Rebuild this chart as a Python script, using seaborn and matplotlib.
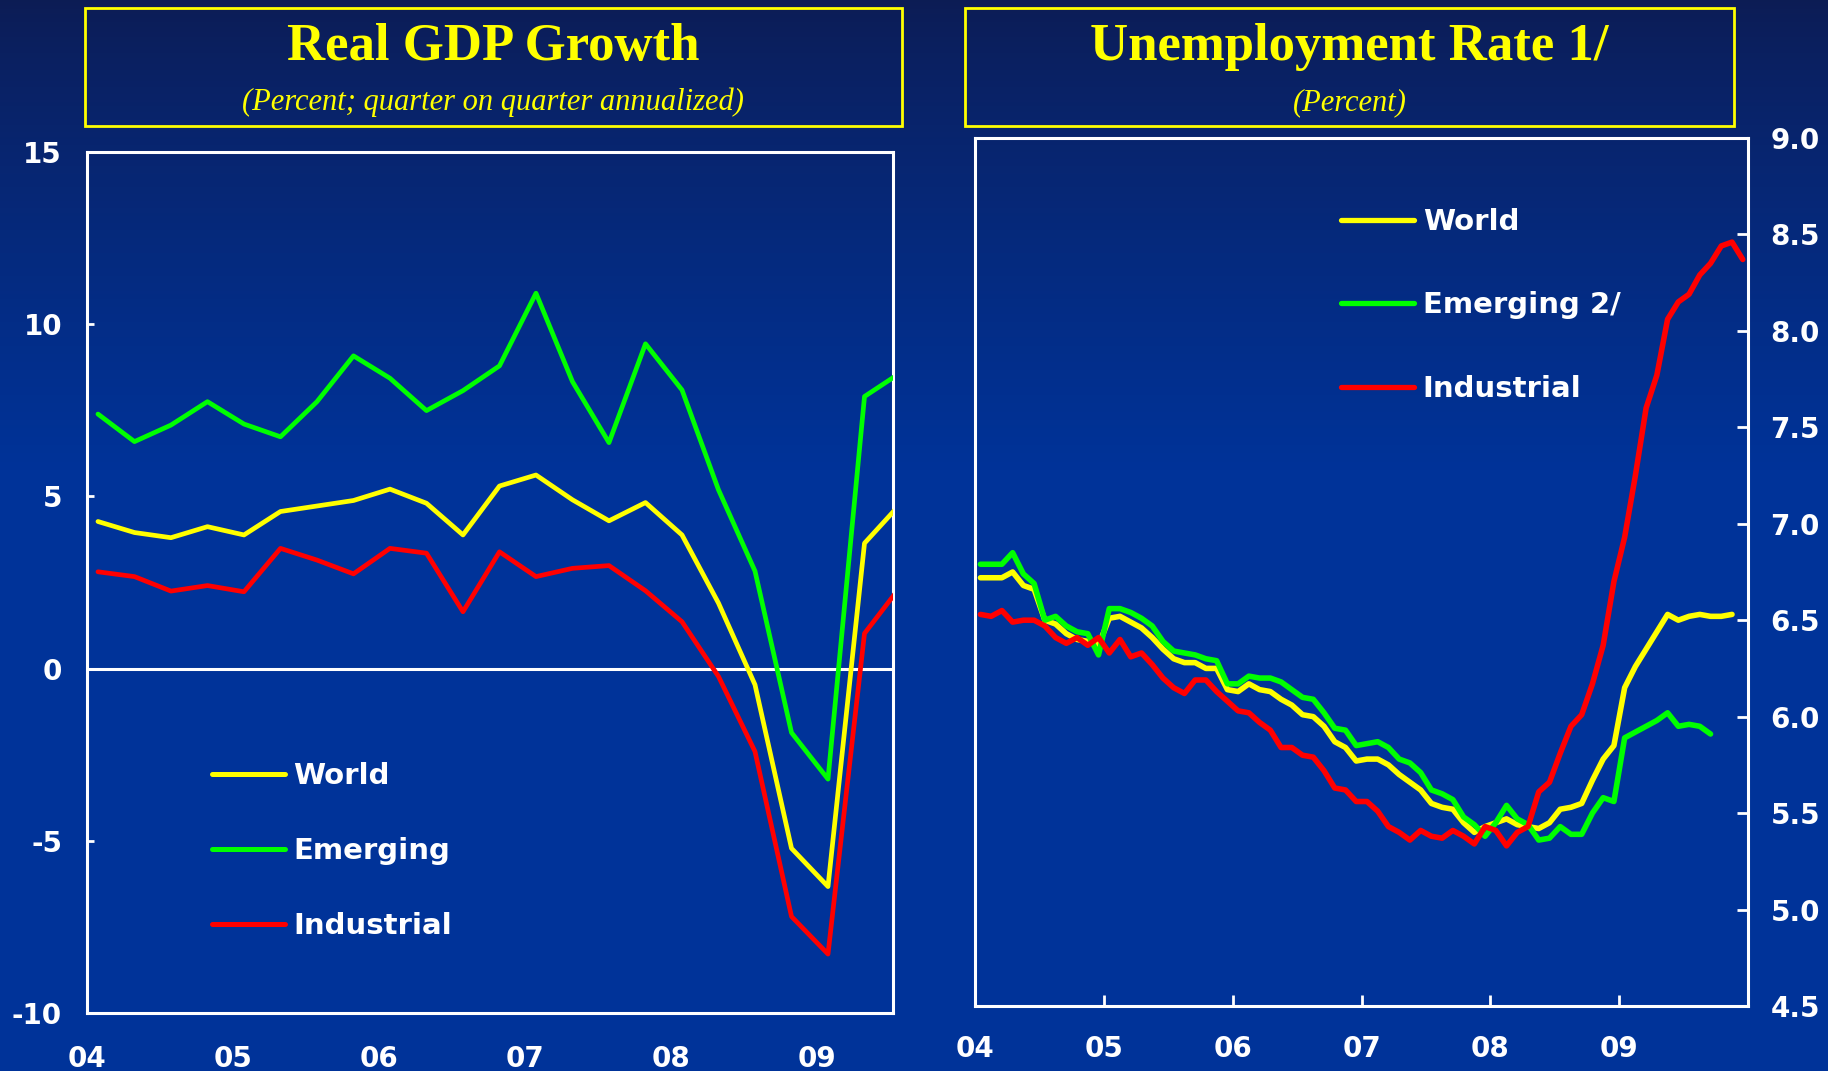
import numpy as np
import pandas as pd
import matplotlib
matplotlib.use("Agg")
import matplotlib.pyplot as plt
from matplotlib.lines import Line2D
from matplotlib.patches import Rectangle
import seaborn as sns

# ---------------------------------------------------------------------------
# Real GDP growth, quarterly 2004Q1-2009Q3 (percent; q/q annualized)
gdp_quarters = pd.period_range("2004Q1", "2009Q3", freq="Q")
gdp_world = [4.27, 3.95, 3.80, 4.12, 3.88, 4.56, 4.72, 4.88, 5.21, 4.80, 3.88, 5.30,
             5.62, 4.90, 4.29, 4.82, 3.88, 1.90, -0.47, -5.22, -6.33, 3.64, 4.80]
gdp_emerging = [7.39, 6.59, 7.07, 7.75, 7.10, 6.73, 7.75, 9.08, 8.43, 7.49, 8.07, 8.79,
                10.90, 8.33, 6.56, 9.43, 8.09, 5.19, 2.83, -1.86, -3.21, 7.90, 8.60]
gdp_industrial = [2.81, 2.67, 2.25, 2.41, 2.23, 3.49, 3.15, 2.75, 3.49, 3.35, 1.65, 3.39,
                  2.67, 2.91, 2.99, 2.26, 1.36, -0.23, -2.41, -7.20, -8.29, 1.02, 2.40]

# Unemployment rate, monthly from January 2004 (percent)
unemp_world = [6.72, 6.72, 6.72, 6.75, 6.68, 6.66, 6.50, 6.48, 6.43, 6.40, 6.39, 6.37,
               6.51, 6.52, 6.49, 6.46, 6.41, 6.35, 6.30, 6.28, 6.28, 6.25, 6.25, 6.14,
               6.13, 6.17, 6.14, 6.13, 6.09, 6.06, 6.01, 6.00, 5.95, 5.87, 5.84, 5.77,
               5.78, 5.78, 5.75, 5.70, 5.66, 5.62, 5.55, 5.53, 5.52, 5.45, 5.40, 5.43,
               5.45, 5.47, 5.44, 5.43, 5.42, 5.45, 5.52, 5.53, 5.55, 5.67, 5.78, 5.85,
               6.15, 6.26, 6.35, 6.44, 6.53, 6.50, 6.52, 6.53, 6.52, 6.52, 6.53]
unemp_emerging = [6.79, 6.79, 6.79, 6.85, 6.74, 6.69, 6.50, 6.52, 6.47, 6.44, 6.43, 6.32,
                  6.56, 6.56, 6.54, 6.51, 6.47, 6.39, 6.34, 6.33, 6.32, 6.30, 6.29, 6.17,
                  6.17, 6.21, 6.20, 6.20, 6.18, 6.14, 6.10, 6.09, 6.02, 5.94, 5.93, 5.85,
                  5.86, 5.87, 5.84, 5.78, 5.76, 5.71, 5.62, 5.60, 5.57, 5.48, 5.44, 5.38,
                  5.45, 5.54, 5.47, 5.44, 5.36, 5.37, 5.43, 5.39, 5.39, 5.50, 5.58, 5.56,
                  5.89, 5.92, 5.95, 5.98, 6.02, 5.95, 5.96, 5.95, 5.91]
unemp_industrial = [6.53, 6.52, 6.55, 6.49, 6.50, 6.50, 6.47, 6.41, 6.38, 6.41, 6.37, 6.41,
                    6.33, 6.40, 6.31, 6.33, 6.27, 6.20, 6.15, 6.12, 6.19, 6.19, 6.13, 6.08,
                    6.03, 6.02, 5.97, 5.93, 5.84, 5.84, 5.80, 5.79, 5.72, 5.63, 5.62, 5.56,
                    5.56, 5.51, 5.43, 5.40, 5.36, 5.41, 5.38, 5.37, 5.41, 5.38, 5.34, 5.43,
                    5.41, 5.33, 5.40, 5.43, 5.61, 5.66, 5.81, 5.95, 6.01, 6.17, 6.37, 6.70,
                    6.93, 7.25, 7.60, 7.77, 8.06, 8.15, 8.19, 8.29, 8.35, 8.44, 8.46, 8.37]

year_labels = ["04", "05", "06", "07", "08", "09"]
gdp_yticks = [-10, -5, 0, 5, 10, 15]
unemp_yticks = [4.5, 5.0, 5.5, 6.0, 6.5, 7.0, 7.5, 8.0, 8.5, 9.0]

YELLOW, GREEN, RED = "#FFFF00", "#00FF00", "#FF0000"
WHITE = "#FFFFFF"

# ---------------------------------------------------------------------------
sns.set_theme(style="white")
plt.rcParams["font.family"] = ["DejaVu Sans"]
plt.rcParams["font.weight"] = "bold"
plt.rcParams["axes.linewidth"] = 2.2


def long_frame(x, columns):
    parts = [pd.DataFrame({"x": np.asarray(x[:len(v)], dtype=float), "value": v, "series": name})
             for name, v in columns.items()]
    return pd.concat(parts, ignore_index=True)


q_x = gdp_quarters.year + (gdp_quarters.quarter - 1) / 4 + 0.075
gdp_df = long_frame(q_x, {"World": gdp_world, "Emerging": gdp_emerging,
                          "Industrial": gdp_industrial})

months = pd.period_range("2004-01", periods=len(unemp_industrial), freq="M")
m_x = months.year + (months.month - 0.5) / 12
unemp_df = long_frame(m_x, {"World": unemp_world, "Emerging 2/": unemp_emerging,
                            "Industrial": unemp_industrial})

fig = plt.figure(figsize=(18.28, 10.71), dpi=100)

# vertical navy gradient behind everything
bg = fig.add_axes([0, 0, 1, 1], zorder=-10)
rows = 1071
t = np.clip(np.arange(rows) / 470.0, 0, 1) ** 0.8
top_c = np.array([0.05, 0.11, 0.33])
bot_c = np.array([0.0, 0.2, 0.6])
grad = top_c[None, :] * (1 - t[:, None]) + bot_c[None, :] * t[:, None]
bg.imshow(grad[:, None, :], aspect="auto", extent=[0, 1, 0, 1], origin="upper")
bg.axis("off")

ax1 = fig.add_axes([0.0476, 0.0542, 0.4409, 0.8039], facecolor="none")
ax2 = fig.add_axes([0.5334, 0.0607, 0.4229, 0.8105], facecolor="none")

# ---- Real GDP growth ----
ax1.axhline(0, color=WHITE, lw=2.2, zorder=1)
sns.lineplot(data=gdp_df, x="x", y="value", hue="series", sort=False,
             palette={"World": YELLOW, "Emerging": GREEN, "Industrial": RED},
             hue_order=["World", "Emerging", "Industrial"],
             linewidth=3.4, legend=False, ax=ax1, zorder=3)
ax1.set_xlim(2004, 2009.52)
ax1.set_ylim(-10, 15)
ax1.set_xticks(range(2004, 2010))
ax1.set_xticklabels(year_labels)
ax1.set_yticks(gdp_yticks)
ax1.set_yticklabels([str(v) for v in gdp_yticks])
ax1.tick_params(axis="y", left=True, direction="in", length=5, width=2, color=WHITE,
                labelcolor=WHITE, labelsize=20, pad=18)
ax1.tick_params(axis="x", bottom=True, length=0, labelcolor=WHITE, labelsize=20, pad=23)
ax1.set_xlabel("")
ax1.set_ylabel("")
for s in ax1.spines.values():
    s.set_color(WHITE)
    s.set_linewidth(2.2)

h1 = [Line2D([], [], color=c, lw=3.6) for c in (YELLOW, GREEN, RED)]
leg1 = ax1.legend(h1, ["World", "Emerging", "Industrial"], loc="upper left",
                  bbox_to_anchor=(0.155, 0.2917), frameon=False, borderpad=0,
                  borderaxespad=0, handlelength=2.5, handletextpad=0.3,
                  labelspacing=1.62, prop={"size": 21, "weight": "bold"})
for txt in leg1.get_texts():
    txt.set_color(WHITE)

# ---- Unemployment rate ----
sns.lineplot(data=unemp_df, x="x", y="value", hue="series", sort=False,
             palette={"World": YELLOW, "Emerging 2/": GREEN, "Industrial": RED},
             hue_order=["World", "Emerging 2/", "Industrial"],
             linewidth=4.0, legend=False, ax=ax2, zorder=3)
ax2.set_xlim(2004, 2010)
ax2.set_ylim(4.5, 9.0)
ax2.set_xticks(range(2004, 2010))
ax2.set_xticklabels(year_labels)
ax2.yaxis.tick_right()
ax2.set_yticks(unemp_yticks)
ax2.set_yticklabels([f"{v:.1f}" for v in unemp_yticks])
ax2.tick_params(axis="y", right=True, left=False, direction="in", length=8, width=2,
                color=WHITE, labelcolor=WHITE, labelsize=20, pad=16)
ax2.tick_params(axis="x", bottom=True, direction="in", length=8, width=2, color=WHITE,
                labelcolor=WHITE, labelsize=20, pad=21)
ax2.set_xlabel("")
ax2.set_ylabel("")
for s in ax2.spines.values():
    s.set_color(WHITE)
    s.set_linewidth(2.2)

h2 = [Line2D([], [], color=c, lw=3.8) for c in (YELLOW, GREEN, RED)]
leg2 = ax2.legend(h2, ["World", "Emerging 2/", "Industrial"], loc="upper left",
                  bbox_to_anchor=(0.4735, 0.9193), frameon=False, borderpad=0,
                  borderaxespad=0, handlelength=2.5, handletextpad=0.3,
                  labelspacing=1.9, prop={"size": 21, "weight": "bold"})
for txt in leg2.get_texts():
    txt.set_color(WHITE)

# ---- title boxes ----
for x0, w in [(0.0465, 0.447), (0.5279, 0.4207)]:
    fig.patches.append(Rectangle((x0, 0.8824), w, 0.1102, transform=fig.transFigure,
                                 fill=False, edgecolor=YELLOW, lw=2.0))

serif = ["Liberation Serif", "DejaVu Serif"]
fig.text(0.2697, 0.9560, "Real GDP Growth", ha="center", va="center", fontsize=38,
         family=serif, weight="bold", color=YELLOW)
fig.text(0.2697, 0.9045, "(Percent; quarter on quarter annualized)", ha="center",
         va="center", fontsize=22, family=serif, style="italic", weight="normal",
         color=YELLOW)
fig.text(0.738, 0.9560, "Unemployment Rate 1/", ha="center", va="center", fontsize=38,
         family=serif, weight="bold", color=YELLOW)
fig.text(0.7385, 0.9045, "(Percent)", ha="center", va="center", fontsize=22,
         family=serif, style="italic", weight="normal", color=YELLOW)

fig.savefig("out.png", dpi=100)
